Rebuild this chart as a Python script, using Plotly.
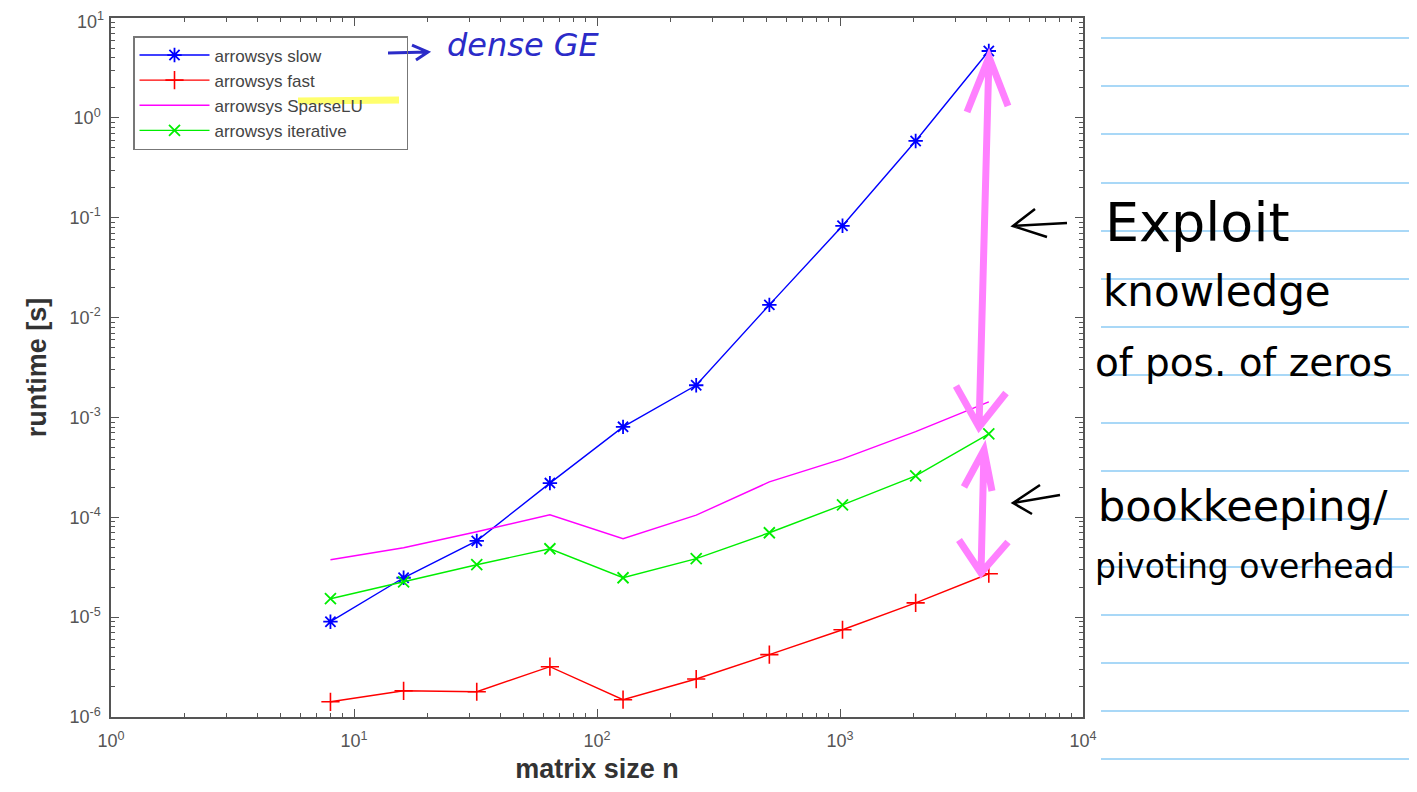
import plotly.graph_objects as go

# ---------------- data ----------------
n = [8, 16, 32, 64, 128, 256, 512, 1024, 2048, 4096]
t_slow = [9.0e-6, 2.48e-5, 5.8e-5, 2.2e-4, 8.05e-4, 2.1e-3, 1.34e-2, 8.3e-2, 0.587, 4.67]
t_fast = [1.42e-6, 1.83e-6, 1.79e-6, 3.19e-6, 1.49e-6, 2.40e-6, 4.21e-6, 7.48e-6, 1.39e-5, 2.72e-5]
t_sparselu = [3.76e-5, 4.95e-5, 7.16e-5, 1.06e-4, 6.1e-5, 1.05e-4, 2.26e-4, 3.85e-4, 7.2e-4, 1.43e-3]
t_iter = [1.53e-5, 2.26e-5, 3.35e-5, 4.84e-5, 2.48e-5, 3.85e-5, 7.0e-5, 1.33e-4, 2.60e-4, 6.85e-4]

series_names = ["arrowsys slow", "arrowsys fast", "arrowsys SparseLU", "arrowsys iterative"]

x_major = [1, 10, 100, 1000, 10000]
x_major_text = ["10<sup>0</sup>", "10<sup>1</sup>", "10<sup>2</sup>", "10<sup>3</sup>", "10<sup>4</sup>"]
y_major = [1e-6, 1e-5, 1e-4, 1e-3, 1e-2, 1e-1, 1, 10]
y_major_text = ["10<sup>-6</sup>", "10<sup>-5</sup>", "10<sup>-4</sup>", "10<sup>-3</sup>",
                "10<sup>-2</sup>", "10<sup>-1</sup>", "10<sup>0</sup>", "10<sup>1</sup>"]

x_minor = [m * 10 ** e for e in range(0, 4) for m in range(2, 10)]
y_minor = [m * 10.0 ** e for e in range(-6, 1) for m in range(2, 10)]

# ---------------- layout geometry ----------------
# the page body adds an 8px margin, so the figure is drawn 8px in from the window corner
OFF = 8
W, H = 1417 - OFF, 792 - 2 * OFF
# plot area in window pixels
L, R, T, B = 111, 1083, 18, 717


def P(px, py):
    return (px - L) / (R - L), (B - py) / (B - T)


def path(*strokes):
    out = []
    for stroke in strokes:
        for i, (px, py) in enumerate(stroke):
            x, y = P(px, py)
            out.append(("M" if i == 0 else "L") + f"{x:.5f},{y:.5f}")
    return " ".join(out)


FONT = "Liberation Sans, Arial, sans-serif"
PAD = "\u00a0" * 8  # widens the legend box like the original

fig = go.Figure()
fig.add_trace(go.Scatter(x=n, y=t_slow, name=series_names[0], mode="lines+markers",
                         legendgroup="a",
                         line=dict(color="#0000FF", width=1.4),
                         marker=dict(symbol="asterisk-open", size=12, color="#0000FF",
                                     line=dict(width=1.8, color="#0000FF"))))
fig.add_trace(go.Scatter(x=n, y=t_fast, name=series_names[1], mode="lines+markers",
                         legendgroup="b",
                         line=dict(color="#FF0000", width=1.4),
                         marker=dict(symbol="cross-thin-open", size=13, color="#FF0000",
                                     line=dict(width=1.6, color="#FF0000"))))
fig.add_trace(go.Scatter(x=n, y=t_sparselu, name=series_names[2] + PAD, mode="lines",
                         legendgroup="c",
                         line=dict(color="#FF00FF", width=1.4)))
fig.add_trace(go.Scatter(x=n, y=t_iter, name=series_names[3], mode="lines+markers",
                         legendgroup="d",
                         line=dict(color="#00EE00", width=1.4),
                         marker=dict(symbol="x-thin-open", size=11, color="#00EE00",
                                     line=dict(width=1.8, color="#00EE00"))))

TICKFONT = dict(family=FONT, size=18, color="#555")
axis_common = dict(
    type="log", showgrid=False, zeroline=False, automargin=False,
    showline=True, linecolor="#555", linewidth=1.5, mirror="allticks",
    ticks="inside", ticklen=8, tickwidth=1.2, tickcolor="#555",
    tickfont=TICKFONT, tickmode="array", ticklabeloverflow="allow",
)
fig.update_xaxes(**axis_common, range=[0, 4], tickvals=x_major, ticktext=x_major_text,
                 minor=dict(tickvals=x_minor, ticks="inside", ticklen=4, tickcolor="#555",
                            tickwidth=1, showgrid=False),
                 ticklabelstandoff=7,
                 title=dict(text="<b>matrix size n</b>",
                            font=dict(family=FONT, size=27, color="#333")))
# the topmost label sits at the very top edge; it is drawn as a text annotation below
fig.update_yaxes(**axis_common, range=[-6, 1], tickvals=y_major,
                 ticktext=y_major_text[:-1] + [""],
                 minor=dict(tickvals=y_minor, ticks="inside", ticklen=4, tickcolor="#555",
                            tickwidth=1, showgrid=False),
                 ticklabelstandoff=5,
                 title=dict(text="<b>runtime [s]</b>",
                            font=dict(family=FONT, size=27, color="#333")))
tx, ty = P(L - 5, 20)
fig.add_annotation(text=y_major_text[-1], xref="paper", yref="paper", x=tx, y=ty,
                   xanchor="right", yanchor="middle", showarrow=False, font=TICKFONT)

lx, ly = P(133, 36)
fig.update_layout(
    width=W, height=H,
    margin=dict(l=L - OFF, r=W - (R - OFF), t=T - OFF, b=H - (B - OFF), pad=0, autoexpand=False),
    paper_bgcolor="white", plot_bgcolor="white",
    showlegend=True,
    legend=dict(x=lx, y=ly, xanchor="left", yanchor="top",
                bgcolor="rgba(255,255,255,0)", bordercolor="#777", borderwidth=1.5,
                font=dict(family=FONT, size=17, color="#444"),
                itemwidth=70, tracegroupgap=0, traceorder="normal"),
)

shapes = []
# notebook lines on the right
for py in [38, 86, 134, 183, 231, 279, 327, 375, 423, 471, 519, 567, 615, 663, 711, 759]:
    x0, y0 = P(1101, py)
    x1, _ = P(1411, py)
    shapes.append(dict(type="line", xref="paper", yref="paper", x0=x0, x1=x1, y0=y0, y1=y0,
                       line=dict(color="#8CCBF5", width=1.5), layer="below"))
x0, y0 = P(1412, 0)
_, y1 = P(1412, 792)
shapes.append(dict(type="line", xref="paper", yref="paper", x0=x0, x1=x0, y0=y0, y1=y1,
                   line=dict(color="#0000EE", width=3)))

# yellow highlight over "SparseLU"
shapes.append(dict(type="path", xref="paper", yref="paper",
                   path=path([(298, 101), (399, 100)]),
                   line=dict(color="rgba(255,255,60,0.75)", width=7)))

# blue arrow to "dense GE"
shapes.append(dict(type="path", xref="paper", yref="paper",
                   path=path([(388, 53), (428, 52)], [(412, 45), (428, 52), (416, 60)]),
                   line=dict(color="#2B2BC8", width=3)))

# magenta double arrows
MAG = "#FF80FF"
shapes.append(dict(type="path", xref="paper", yref="paper",
                   path=path([(989, 56), (979, 428)],
                             [(967, 112), (989, 57), (1008, 106)],
                             [(956, 386), (979, 427), (1006, 393)]),
                   line=dict(color=MAG, width=7)))
shapes.append(dict(type="path", xref="paper", yref="paper",
                   path=path([(984, 449), (981, 573)],
                             [(964, 487), (984, 450), (992, 491)],
                             [(959, 540), (981, 573), (1008, 542)]),
                   line=dict(color=MAG, width=7)))

# black arrows
shapes.append(dict(type="path", xref="paper", yref="paper",
                   path=path([(1067, 223), (1013, 226)], [(1035, 209), (1013, 226), (1047, 237)]),
                   line=dict(color="black", width=2.5)))
shapes.append(dict(type="path", xref="paper", yref="paper",
                   path=path([(1060, 495), (1013, 503)], [(1040, 485), (1013, 503), (1032, 514)]),
                   line=dict(color="black", width=2.5)))
fig.update_layout(shapes=shapes)

HAND = "DejaVu Sans, sans-serif"
notes = [
    ("dense GE", 445, 45, 32, "#2B2BC8"),
    ("Exploit", 1103, 222, 54, "black"),
    ("knowledge", 1101, 291, 42, "black"),
    ("of pos. of zeros", 1093, 362, 39, "black"),
    ("bookkeeping/", 1096, 506, 43, "black"),
    ("pivoting overhead", 1093, 566, 33, "black"),
]
for txt, px, py, size, col in notes:
    x, y = P(px, py)
    fig.add_annotation(text=txt if col == "black" else f"<i>{txt}</i>",
                       xref="paper", yref="paper", x=x, y=y,
                       xanchor="left", yanchor="middle", showarrow=False,
                       font=dict(family=HAND, size=size, color=col))

fig.write_html("out.html")
